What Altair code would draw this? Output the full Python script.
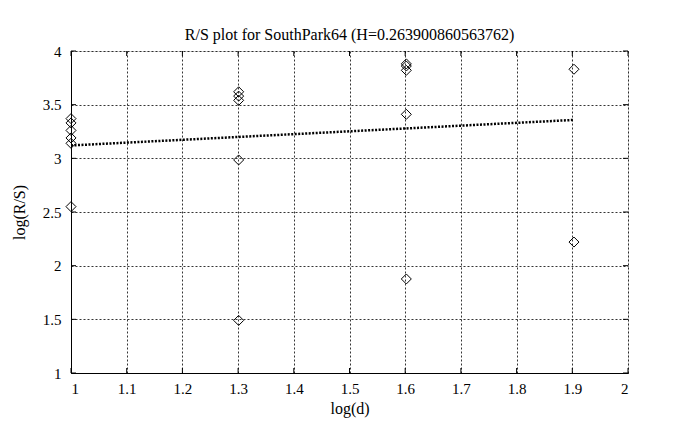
import altair as alt
import pandas as pd

# data
pt_x = [1.0, 1.0, 1.0, 1.0, 1.0, 1.0,
        1.301, 1.301, 1.301, 1.301, 1.301,
        1.602, 1.602, 1.602, 1.602, 1.602,
        1.903, 1.903]
pt_y = [3.37, 3.33, 3.26, 3.19, 3.14, 2.55,
        3.62, 3.58, 3.54, 2.985, 1.49,
        3.88, 3.86, 3.82, 3.41, 1.876,
        3.83, 2.22]
fit_x = [1.0, 1.903]
fit_y = [3.120, 3.358]
x_ticks = [1.0, 1.1, 1.2, 1.3, 1.4, 1.5, 1.6, 1.7, 1.8, 1.9, 2.0]
y_ticks = [1.0, 1.5, 2.0, 2.5, 3.0, 3.5, 4.0]

W, H = 557, 322
FONT = "Liberation Serif"

pts = pd.DataFrame({"x": pt_x, "y": pt_y})
fit = pd.DataFrame({"x": fit_x, "y": fit_y})
xt = pd.DataFrame({"t": x_ticks})
yt = pd.DataFrame({"t": y_ticks})

xscale = alt.Scale(domain=[1, 2], nice=False, zero=False)
yscale = alt.Scale(domain=[1, 4], nice=False, zero=False)

common = dict(grid=True, gridColor="black", gridDash=[2, 2], gridWidth=0.8, gridOpacity=1,
              ticks=False, domain=True, domainColor="black", domainWidth=1,
              labelFont=FONT, labelFontSize=15, labelColor="black",
              titleFont=FONT, titleFontSize=16, titleFontWeight="normal", titleColor="black")
xaxis = alt.Axis(values=x_ticks, format="~g", title="log(d)", labelPadding=8, titlePadding=4, **common)
yaxis = alt.Axis(values=y_ticks, format="~g", title="log(R/S)", labelPadding=10, titlePadding=15, **common)

points = alt.Chart(pts).mark_point(shape="diamond", filled=False, size=100,
                                   stroke="black", strokeWidth=1, opacity=1).encode(
    x=alt.X("x:Q", scale=xscale, axis=xaxis),
    y=alt.Y("y:Q", scale=yscale, axis=yaxis),
)

line = alt.Chart(fit).mark_line(color="black", strokeWidth=2.5, strokeDash=[2, 1.5]).encode(
    x=alt.X("x:Q", scale=xscale, axis=xaxis),
    y=alt.Y("y:Q", scale=yscale, axis=yaxis),
)

xt_top = alt.Chart(xt).mark_rule(color="black", strokeWidth=1).encode(
    x=alt.X("t:Q", scale=xscale, axis=xaxis), y=alt.value(0), y2=alt.value(5))
xt_bot = alt.Chart(xt).mark_rule(color="black", strokeWidth=1).encode(
    x=alt.X("t:Q", scale=xscale, axis=xaxis), y=alt.value(H), y2=alt.value(H - 5))
yt_left = alt.Chart(yt).mark_rule(color="black", strokeWidth=1).encode(
    y=alt.Y("t:Q", scale=yscale, axis=yaxis), x=alt.value(0), x2=alt.value(5))
yt_right = alt.Chart(yt).mark_rule(color="black", strokeWidth=1).encode(
    y=alt.Y("t:Q", scale=yscale, axis=yaxis), x=alt.value(W), x2=alt.value(W - 5))

chart = alt.layer(points, line, xt_top, xt_bot, yt_left, yt_right).properties(
    width=W, height=H,
    title=alt.TitleParams("R/S plot for SouthPark64 (H=0.263900860563762)",
                          font=FONT, fontSize=16, fontWeight="normal", color="black",
                          baseline="alphabetic", offset=6, dy=18, anchor="middle"),
    autosize="none",
    padding={"left": 63, "top": 43, "right": 42, "bottom": 49},
).configure_view(stroke="black", strokeWidth=1).configure(background="white")

chart.save("out.html", embed_options={"renderer": "svg", "actions": False})
